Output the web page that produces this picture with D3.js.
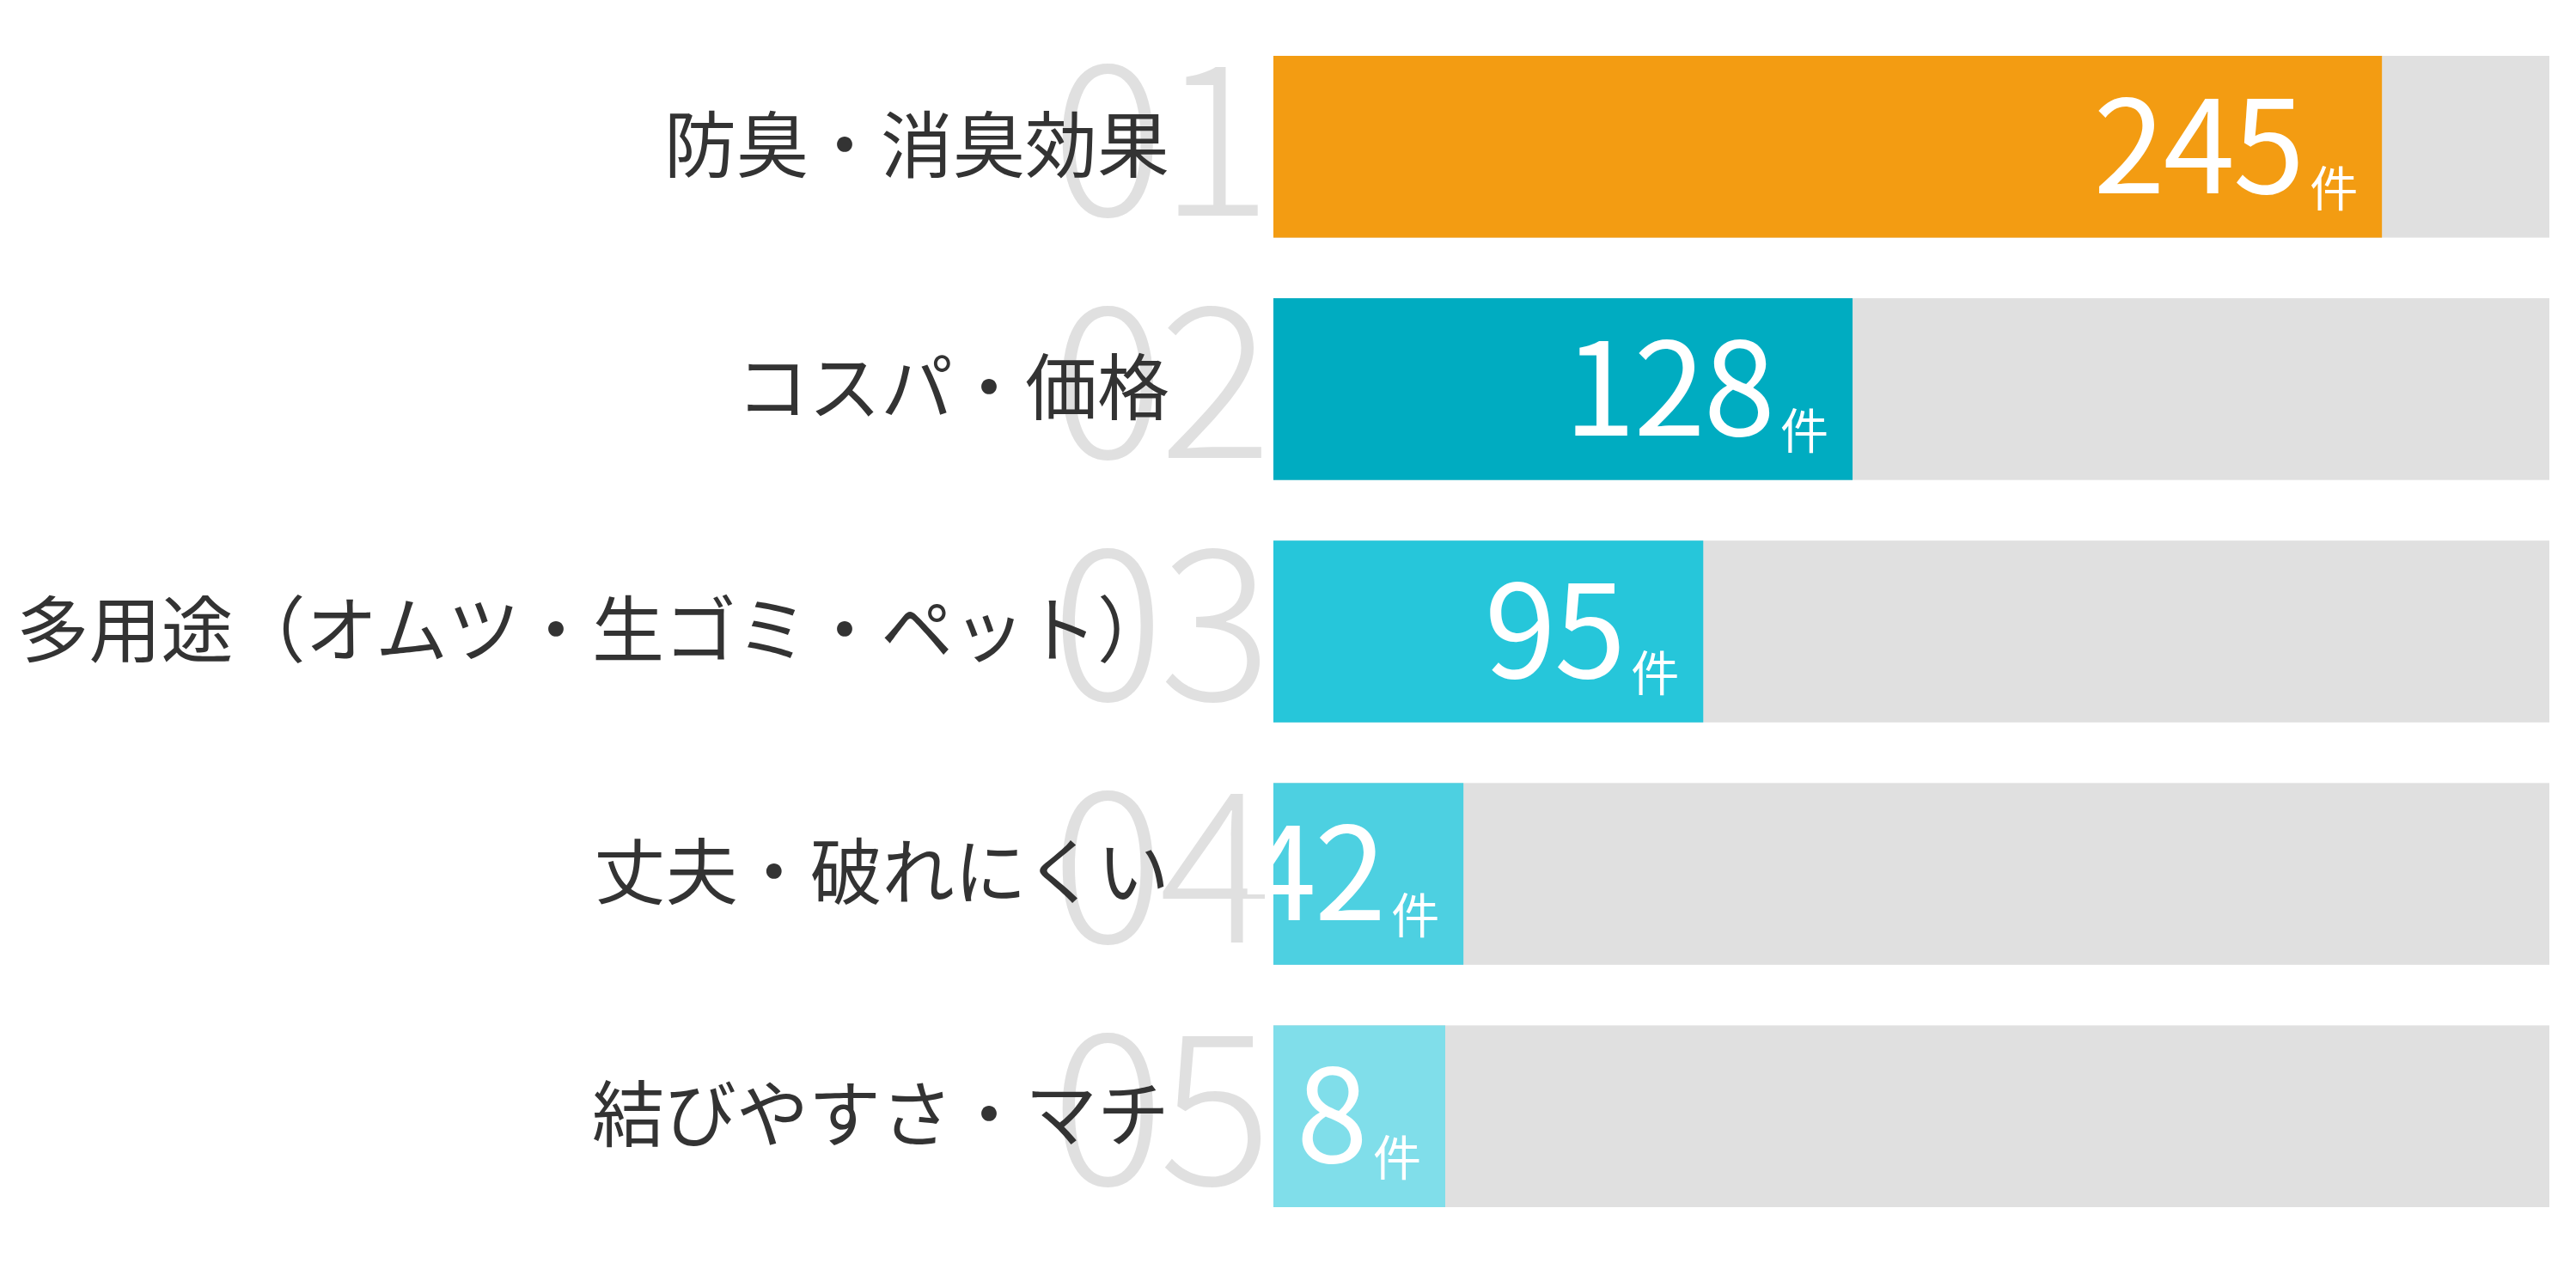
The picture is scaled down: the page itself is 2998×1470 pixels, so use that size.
<!DOCTYPE html>
<html><head><meta charset="utf-8">
<script src="https://cdn.jsdelivr.net/npm/d3@7"></script>
<style>html,body{margin:0;padding:0;background:#fff;}</style>
</head><body>
<svg id="c" width="2998" height="1470"></svg>
<script>
const categories = ["防臭・消臭効果","コスパ・価格","多用途（オムツ・生ゴミ・ペット）","丈夫・破れにくい","結びやすさ・マチ"];
const ranks = ["01","02","03","04","05"];
const values = [245,128,95,42,8];
const colors = ["#f39c12","#00acc1","#26c6da","#4dd0e1","#80deea"];
const unit = "件";
const maxValue = 282;
const minBarWidth = 200;

const svg = d3.select("#c");
const font = "'Noto Sans CJK JP', 'Noto Sans', sans-serif";
const x = d3.scaleLinear().domain([0, maxValue]).range([1482, 2967]);
const y = d3.scaleBand().domain(categories).range([65, 1405]).paddingInner(0.25).paddingOuter(0);
const bh = y.bandwidth();
const bw = v => Math.max(x(v) - x(0), minBarWidth);
const g = svg.selectAll("g.row").data(categories).join("g")
  .attr("transform", d => `translate(0,${y(d)})`);

g.append("text").attr("x", 1474).attr("y", bh/2 + 80)
  .attr("text-anchor","end").attr("font-family", font).attr("font-weight",300)
  .attr("font-size", 245).attr("fill","#e0e0e0").attr("letter-spacing",-6)
  .text((d,i) => ranks[i]);

g.append("text").attr("x", 1361).attr("y", bh/2 + 29)
  .attr("text-anchor","end").attr("font-family", font).attr("font-size", 84)
  .attr("fill","#333").text(d => d);

g.append("rect").attr("x", x(0)).attr("y",0).attr("width", x(maxValue)-x(0)).attr("height", bh).attr("fill","#e0e0e0");
g.append("rect").attr("x", x(0)).attr("y",0).attr("width",(d,i)=>bw(values[i])).attr("height",bh).attr("fill",(d,i)=>colors[i]);

const t = g.append("text").attr("x",(d,i)=>x(0) + bw(values[i]) - 28).attr("y", bh/2 + 54)
  .attr("text-anchor","end").attr("font-family", font).attr("font-weight",400).attr("fill","#fff");
t.append("tspan").attr("font-size",150).attr("letter-spacing",-2).text((d,i)=>values[i]);
t.append("tspan").attr("font-size",56).attr("dx",8).attr("dy",15).text(unit);
</script>
</body></html>
